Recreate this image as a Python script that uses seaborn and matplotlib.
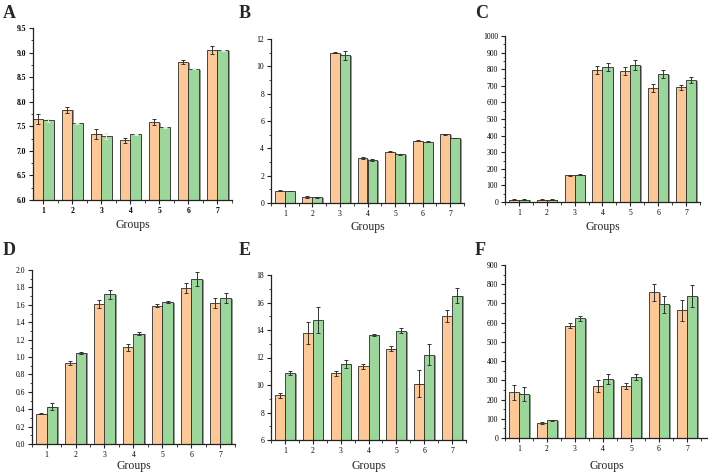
import numpy as np
import pandas as pd
import matplotlib
matplotlib.use('Agg')
import matplotlib.pyplot as plt
import matplotlib.patheffects as pe
from matplotlib.ticker import AutoMinorLocator, FixedLocator
import seaborn as sns

sns.set_theme(style="ticks")
plt.rcParams['font.family'] = ['Liberation Serif', 'DejaVu Serif']

ORANGE = '#fdc896'
GREEN = '#9bd69b'

groups = ['1', '2', '3', '4', '5', '6', '7']

# panel A
a_orange = [7.64, 7.84, 7.35, 7.22, 7.58, 8.81, 9.05]
a_orange_err = [0.10, 0.06, 0.10, 0.05, 0.06, 0.04, 0.08]
a_green = [7.62, 7.56, 7.30, 7.34, 7.48, 8.67, 9.05]
a_green_err = [0.03, 0.01, 0.06, 0.01, 0.01, 0.01, 0.01]

# panel B
b_orange = [0.90, 0.45, 11.00, 3.30, 3.75, 4.55, 5.02]
b_orange_err = [0.03, 0.05, 0.03, 0.07, 0.04, 0.04, 0.03]
b_green = [0.88, 0.42, 10.80, 3.15, 3.55, 4.48, 4.75]
b_green_err = [0.02, 0.02, 0.30, 0.06, 0.02, 0.03, 0.03]

# panel C
c_orange = [15, 15, 160, 795, 790, 685, 692]
c_orange_err = [1, 1, 3, 25, 25, 25, 15]
c_green = [15, 15, 165, 815, 825, 770, 735]
c_green_err = [1, 1, 2, 25, 30, 25, 18]

# panel D
d_orange = [0.35, 0.93, 1.61, 1.11, 1.59, 1.79, 1.62]
d_orange_err = [0.01, 0.02, 0.05, 0.04, 0.02, 0.06, 0.06]
d_green = [0.43, 1.05, 1.72, 1.27, 1.63, 1.90, 1.68]
d_green_err = [0.04, 0.01, 0.05, 0.02, 0.01, 0.08, 0.06]

# panel E
e_orange = [9.25, 13.75, 10.85, 11.35, 12.65, 10.10, 15.00]
e_orange_err = [0.20, 0.80, 0.20, 0.15, 0.20, 1.00, 0.45]
e_green = [10.85, 14.75, 11.55, 13.65, 13.95, 12.20, 16.50]
e_green_err = [0.15, 0.95, 0.30, 0.08, 0.20, 0.75, 0.55]

# panel F
f_orange = [237, 78, 585, 270, 270, 758, 665]
f_orange_err = [38, 5, 12, 30, 15, 45, 55]
f_green = [228, 92, 622, 307, 317, 695, 738]
f_green_err = [35, 4, 12, 28, 15, 45, 58]

fig = plt.figure(figsize=(7.08, 4.74), dpi=100)

W, H = 708, 474


def rect(left, right, top, bottom):
    return [left / W, (H - bottom) / H, (right - left) / W, (bottom - top) / H]


# label, (left, right, top, bottom) in px, data, ylim, yticks, fmt, xlim, bold, letter pos, xlabel y px
panels = [
    ('A', (33, 232, 28, 200), a_orange, a_orange_err, a_green, a_green_err,
     (6, 9.5), np.arange(6, 9.51, 0.5), '{:.1f}', (-0.35, 6.5), True, (0, 0), 225),
    ('B', (271, 464, 39, 203), b_orange, b_orange_err, b_green, b_green_err,
     (0, 12), np.arange(0, 13, 2), '{:.0f}', (-0.5, 6.5), False, (236, 0), 227),
    ('C', (505, 700, 36, 202), c_orange, c_orange_err, c_green, c_green_err,
     (0, 1000), np.arange(0, 1001, 100), '{:.0f}', (-0.5, 6.5), False, (472, 0), 227),
    ('D', (32, 235, 270, 444), d_orange, d_orange_err, d_green, d_green_err,
     (0, 2.0), np.arange(0, 2.01, 0.2), '{:.1f}', (-0.5, 6.5), False, (0, 237), 466),
    ('E', (271, 466, 275, 440), e_orange, e_orange_err, e_green, e_green_err,
     (6, 18), np.arange(6, 19, 2), '{:.0f}', (-0.5, 6.5), False, (236, 237), 466),
    ('F', (505, 708, 265, 438), f_orange, f_orange_err, f_green, f_green_err,
     (0, 900), np.arange(0, 901, 100), '{:.0f}', (-0.5, 6.75), False, (472, 237), 466),
]

shadow = [pe.SimplePatchShadow(offset=(1.2, -0.6), shadow_rgbFace='#808080', alpha=0.8),
          pe.Normal()]

for label, box, orange, orange_err, green, green_err, ylim, yticks, fmt, xlim, bold, lpos, lab_y in panels:
    ax = fig.add_axes(rect(*box))
    df = pd.DataFrame({
        'Groups': groups * 2,
        'Series': ['s1'] * 7 + ['s2'] * 7,
        'value': orange + green,
    })
    sns.barplot(data=df, x='Groups', y='value', hue='Series',
                palette={'s1': ORANGE, 's2': GREEN}, saturation=1,
                width=0.72, errorbar=None, edgecolor='#2b2b2b', linewidth=0.6,
                legend=False, ax=ax)
    for bars in ax.containers:
        for p in bars:
            p.set_path_effects(shadow)

    err_colors = ['#333333', '#e8e8e8' if label == 'A' else '#333333']
    for bars, vals, errs, col in zip(ax.containers, [orange, green],
                                     [orange_err, green_err], err_colors):
        xs = [p.get_x() + p.get_width() / 2 for p in bars]
        ax.errorbar(xs, vals, yerr=errs, fmt='none', ecolor=col,
                    elinewidth=0.7, capsize=1.6, capthick=0.7, zorder=5)

    ax.set_ylim(*ylim)
    ax.set_xlim(*xlim)
    ax.set_yticks(yticks)
    ax.set_yticklabels([fmt.format(v) for v in yticks])
    ax.yaxis.set_minor_locator(AutoMinorLocator(2))
    ax.xaxis.set_minor_locator(FixedLocator(np.arange(-0.5, 7, 1)))
    ax.tick_params(axis='both', which='major', direction='out', length=3,
                   width=0.8, labelsize=5.5, pad=2, colors='#222222',
                   labelcolor='black')
    ax.tick_params(axis='both', which='minor', direction='out', length=1.8,
                   width=0.6, colors='#222222')
    if bold:
        for t in ax.get_xticklabels() + ax.get_yticklabels():
            t.set_fontweight('bold')
    for side in ['top', 'right']:
        ax.spines[side].set_visible(False)
    for side in ['left', 'bottom']:
        ax.spines[side].set_linewidth(0.9)
        ax.spines[side].set_color('#222222')
    ax.set_ylabel('')
    ax.set_xlabel('Groups', fontsize=8.5, va='center')
    ax.xaxis.set_label_coords(0.5, -(lab_y - box[3]) / (box[3] - box[2]))

    fig.text(lpos[0] / W + 0.004, 1 - (lpos[1] + 5) / H, label, fontsize=13,
             fontweight='bold', ha='left', va='top')

fig.savefig('out.png', dpi=100)
